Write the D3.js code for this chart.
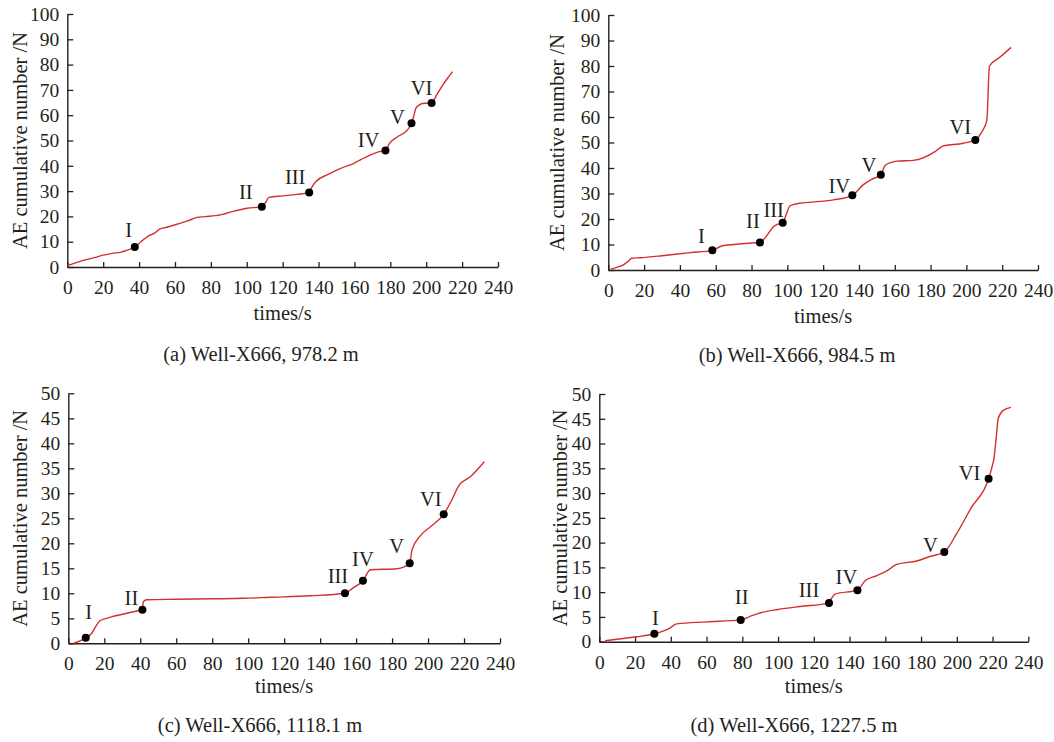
<!DOCTYPE html>
<html>
<head>
<meta charset="utf-8">
<script src="https://cdn.jsdelivr.net/npm/d3@7"></script>
<style>
  html, body { margin: 0; padding: 0; background: #ffffff; }
  svg { display: block; }
  text { font-family: "Liberation Serif", "DejaVu Serif", serif; fill: #231f20; }
</style>
</head>
<body>
<svg id="chart" width="1054" height="742"></svg>
<script>
// ---------- data ----------
const xTickValues = [0, 20, 40, 60, 80, 100, 120, 140, 160, 180, 200, 220, 240];
const yTicksTop = [0, 10, 20, 30, 40, 50, 60, 70, 80, 90, 100];
const yTicksBottom = [0, 5, 10, 15, 20, 25, 30, 35, 40, 45, 50];
const stageLabels = ["I", "II", "III", "IV", "V", "VI"];
const xTitle = "times/s";
const yTitle = "AE cumulative number /N";
const captions = ["(a) Well-X666, 978.2 m", "(b) Well-X666, 984.5 m", "(c) Well-X666, 1118.1 m", "(d) Well-X666, 1227.5 m"];

// (a)
const timeA = [0, 5, 10, 15, 20, 25, 30, 33, 37.6, 41, 45.3, 49, 50.5, 51.8, 56, 61, 67, 72.3, 77, 85.3, 92, 100.2, 108.4, 110.5, 112.3, 120, 128, 134.8, 136, 138.4, 145, 152, 159.8, 166, 173.8, 177.3, 179.3, 184, 189.6, 191.8, 193, 194.2, 196, 198.9, 203, 206, 209.2, 212, 214.7];
const countA = [0.5, 1.7, 2.8, 3.7, 4.7, 5.4, 5.9, 6.6, 7.9, 10, 12.3, 13.6, 14.5, 15.1, 15.8, 16.9, 18.2, 19.6, 19.9, 20.6, 21.9, 23.2, 23.8, 25.5, 27.5, 28.1, 28.7, 29.4, 31.2, 33.7, 36.5, 38.9, 41, 43.3, 45.6, 46, 48.6, 51.5, 54.2, 56.8, 59.5, 62.7, 64, 64.7, 64.8, 68.2, 71.9, 74.7, 77.2];
const stageTimeA = [37.6, 108.4, 134.8, 177.3, 191.8, 203];
const stageCountA = [7.9, 23.8, 29.4, 46, 56.8, 64.8];

// (b)
const timeB = [1.3, 5, 8.4, 11, 13, 17.7, 30, 45.6, 58.1, 63.3, 70, 80, 84.7, 88, 92.2, 96, 97.4, 99.5, 101.5, 106.1, 115, 125.7, 136.3, 142.5, 147, 152.2, 154.6, 158, 161.1, 170.4, 182.5, 186.8, 198.3, 205, 208.6, 211.4, 212.9, 219, 225];
const countB = [0.3, 1.1, 2, 3.3, 4.6, 4.8, 5.6, 6.8, 7.7, 9.4, 10, 10.6, 10.8, 13, 17, 18.3, 18.5, 22, 25.2, 26.1, 26.7, 27.5, 29.3, 33.5, 35.5, 37.4, 41, 42.2, 42.7, 43, 46.4, 48.6, 49.7, 51, 54.2, 58.6, 80, 83.6, 87.3];
const stageTimeB = [58.1, 84.7, 97.4, 136.3, 152.2, 205];
const stageCountB = [7.7, 10.8, 18.5, 29.3, 37.4, 51];

// (c)
const timeC = [2.8, 9.7, 13, 15.5, 17.6, 21.3, 30, 39.9, 41.2, 41.7, 43.6, 60, 80, 97.4, 112, 134.4, 153.8, 158, 163.8, 167.9, 182.8, 189.8, 191.1, 195.7, 202, 208.7, 213, 217, 223.5, 231.3];
const countC = [0, 1.1, 2, 3.5, 4.5, 5, 5.8, 6.6, 6.7, 8.3, 8.7, 8.8, 8.9, 9, 9.2, 9.5, 10, 11, 12.5, 14.7, 14.9, 16, 18.7, 21.5, 23.5, 25.8, 28.5, 31.5, 33.3, 36.3];
const stageTimeC = [9.7, 41.2, 153.8, 163.8, 189.8, 208.7];
const stageCountC = [1.1, 6.7, 10, 12.5, 16, 25.8];

// (d)
const timeD = [3.2, 20.9, 30.8, 36, 39.2, 43.3, 60, 79.1, 85, 90.8, 100, 112.3, 128.5, 130, 131.9, 144.4, 148.7, 155, 160.8, 166.4, 177.6, 185, 193, 199.9, 208, 217.8, 219.5, 220.8, 222, 223.2, 226, 230.3];
const countD = [0.2, 1.0, 1.6, 2.2, 2.7, 3.6, 4.0, 4.4, 5.2, 5.9, 6.5, 7.1, 7.8, 8.8, 9.6, 10.4, 12.3, 13.3, 14.3, 15.6, 16.3, 17.2, 18.1, 21.8, 27, 32.9, 35, 37, 41, 45.1, 46.7, 47.3];
const stageTimeD = [30.8, 79.1, 128.5, 144.4, 193, 217.8];
const stageCountD = [1.6, 4.4, 7.8, 10.4, 18.1, 32.9];

// ---------- layout (pixels) ----------
const panels = [
  { time: timeA, count: countA, st: stageTimeA, sc: stageCountA, yTicks: yTicksTop, yMax: 100,
    x0: 67.3, x1: 498, y0: 267, y1: 14, yTitleX: 20, xTitleY: 313, capX: 261, capY: 354,
    lab: [[-6,-17],[-16,-15],[-14,-16],[-17,-11],[-14,-6],[-10,-15]] },
  { time: timeB, count: countB, st: stageTimeB, sc: stageCountB, yTicks: yTicksTop, yMax: 100,
    x0: 608.3, x1: 1038, y0: 270, y1: 15, yTitleX: 557, xTitleY: 316, capX: 797, capY: 355,
    lab: [[-11,-14],[-7,-21],[-9,-13],[-13,-9],[-12,-10],[-15,-13]] },
  { time: timeC, count: countC, st: stageTimeC, sc: stageCountC, yTicks: yTicksBottom, yMax: 50,
    x0: 68.3, x1: 500, y0: 643.3, y1: 393.3, yTitleX: 20, xTitleY: 686, capX: 260, capY: 725,
    lab: [[3,-26],[-11,-12],[-7,-17],[0,-22],[-13,-17],[-13,-15]] },
  { time: timeD, count: countD, st: stageTimeD, sc: stageCountD, yTicks: yTicksBottom, yMax: 50,
    x0: 599.3, x1: 1028.3, y0: 641.7, y1: 394, yTitleX: 560, xTitleY: 686, capX: 794, capY: 725,
    lab: [[1,-16],[1,-23],[-20,-13],[-11,-13],[-14,-7],[-19,-6]] }
];

const svg = d3.select("#chart");
const axisColor = "#231f20";
const lineColor = "#d2302c";

panels.forEach((p, i) => {
  const x = d3.scaleLinear().domain([0, 240]).range([p.x0, p.x1]);
  const y = d3.scaleLinear().domain([0, p.yMax]).range([p.y0, p.y1]);
  const g = svg.append("g");

  const gx = g.append("g").attr("transform", `translate(0,${p.y0})`)
    .call(d3.axisBottom(x).tickValues(xTickValues).tickSizeInner(-5).tickSizeOuter(0).tickPadding(13).tickFormat(d3.format("d")));
  const gy = g.append("g").attr("transform", `translate(${p.x0},0)`)
    .call(d3.axisLeft(y).tickValues(p.yTicks).tickSizeInner(-6).tickSizeOuter(0).tickPadding(8).tickFormat(d3.format("d")));
  [gx, gy].forEach(a => {
    a.selectAll("path.domain").attr("stroke", axisColor).attr("stroke-width", 1.4);
    a.selectAll(".tick line").attr("stroke", axisColor).attr("stroke-width", 1.3);
    a.selectAll(".tick text").attr("fill", axisColor)
      .style("font-family", '"Liberation Serif", serif').style("font-size", "19.5px");
  });

  const line = d3.line().x(d => x(d[0])).y(d => y(d[1])).curve(d3.curveMonotoneX);
  const pts = p.time.map((t, k) => [t, p.count[k]]);
  g.append("path").datum(pts).attr("d", line)
    .attr("fill", "none").attr("stroke", lineColor).attr("stroke-width", 1.4);

  p.st.forEach((t, k) => {
    const cx = x(t), cy = y(p.sc[k]);
    g.append("circle").attr("cx", cx).attr("cy", cy).attr("r", 4).attr("fill", "#000");
    g.append("text").attr("x", cx + p.lab[k][0]).attr("y", cy + p.lab[k][1])
      .attr("text-anchor", "middle").attr("dominant-baseline", "central")
      .style("font-size", "20.5px").text(stageLabels[k]);
  });

  g.append("text").attr("x", (p.x0 + p.x1) / 2).attr("y", p.xTitleY)
    .attr("text-anchor", "middle").attr("dominant-baseline", "central")
    .style("font-size", "20.5px").text(xTitle);
  g.append("text")
    .attr("transform", `translate(${p.yTitleX},${(p.y0 + p.y1) / 2}) rotate(-90)`)
    .attr("text-anchor", "middle").attr("dominant-baseline", "central")
    .style("font-size", "20.5px").text(yTitle);
  g.append("text").attr("x", p.capX).attr("y", p.capY)
    .attr("text-anchor", "middle").attr("dominant-baseline", "central")
    .style("font-size", "20.5px").text(captions[i]);
});
</script>
</body>
</html>
